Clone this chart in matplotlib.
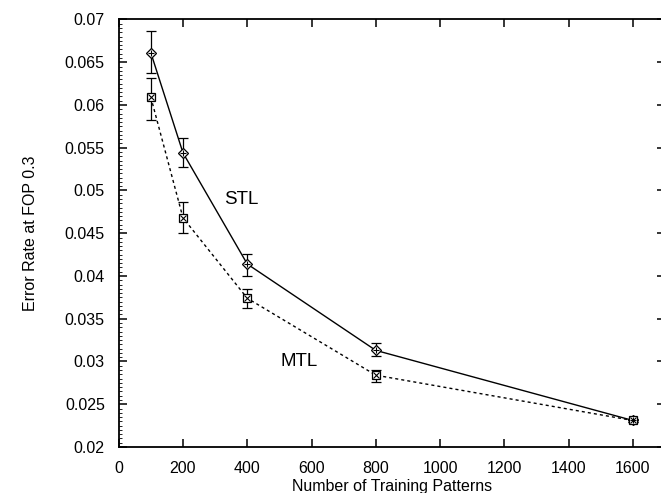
import numpy as np
import matplotlib
matplotlib.use('Agg')
import matplotlib.pyplot as plt
from matplotlib.ticker import MultipleLocator

plt.rcParams['font.family'] = ['Liberation Sans', 'DejaVu Sans']

patterns = [100, 200, 400, 800, 1600]

stl = [0.0661, 0.0544, 0.0414, 0.0313, 0.0231]
stl_lo = [0.0637, 0.0528, 0.0400, 0.0306, 0.0229]
stl_hi = [0.0686, 0.0561, 0.0426, 0.0322, 0.0233]

mtl = [0.0609, 0.0468, 0.0374, 0.0284, 0.0231]
mtl_lo = [0.0583, 0.0450, 0.0363, 0.0276, 0.0229]
mtl_hi = [0.0632, 0.0486, 0.0385, 0.0290, 0.0233]

xticks = [0, 200, 400, 600, 800, 1000, 1200, 1400, 1600]
yticks = [0.02, 0.025, 0.03, 0.035, 0.04, 0.045, 0.05, 0.055, 0.06, 0.065, 0.07]
ytick_labels = ['0.02', '0.025', '0.03', '0.035', '0.04', '0.045', '0.05',
                '0.055', '0.06', '0.065', '0.07']

fig = plt.figure(figsize=(6.61, 4.93), dpi=100)
ax = fig.add_axes([0.1796, 0.0933, 0.8265, 0.8672])

x = np.array(patterns)
s = np.array(stl)
m = np.array(mtl)
s_err = [s - np.array(stl_lo), np.array(stl_hi) - s]
m_err = [m - np.array(mtl_lo), np.array(mtl_hi) - m]

# STL: solid, diamond with plus
ax.errorbar(x, s, yerr=s_err, color='black', lw=1.0, elinewidth=0.9,
            capsize=3.5, capthick=0.9, marker='D', ms=5, mfc='white',
            mec='black', mew=0.9)
ax.plot(x, s, ls='none', marker='+', ms=5, color='black', mew=0.8, zorder=4)

# MTL: dashed, square with cross
ax.errorbar(x, m, yerr=m_err, color='black', lw=1.0, ls=(0, (2.2, 2.2)),
            elinewidth=0.9, capsize=3.5, capthick=0.9, marker='s', ms=6,
            mfc='white', mec='black', mew=0.9)
ax.plot(x, m, ls='none', marker='x', ms=4.5, color='black', mew=0.8, zorder=4)

ax.text(328, 0.0489, 'STL', fontsize=13.5, va='center', ha='left')
ax.text(502, 0.0300, 'MTL', fontsize=13.5, va='center', ha='left')

ax.set_xlim(0, 1700)
ax.set_ylim(0.02, 0.07)
ax.set_xticks(xticks)
ax.set_yticks(yticks)
ax.set_yticklabels(ytick_labels)
ax.yaxis.set_minor_locator(MultipleLocator(0.0005))

ax.tick_params(axis='both', which='major', direction='in', length=5.5, width=1.1,
               top=True, right=True, labelsize=11.5)
ax.tick_params(axis='y', which='major', pad=10)
ax.tick_params(axis='x', which='major', pad=10)
ax.tick_params(axis='y', which='minor', direction='in', length=2.2, width=0.6,
               left=True, right=False)

for sp in ax.spines.values():
    sp.set_linewidth(1.3)

ax.set_xlabel('Number of Training Patterns', fontsize=11.5, labelpad=2)
ax.set_ylabel('Error Rate at FOP 0.3', fontsize=11.5, labelpad=19)

fig.savefig('out.png', dpi=100)
